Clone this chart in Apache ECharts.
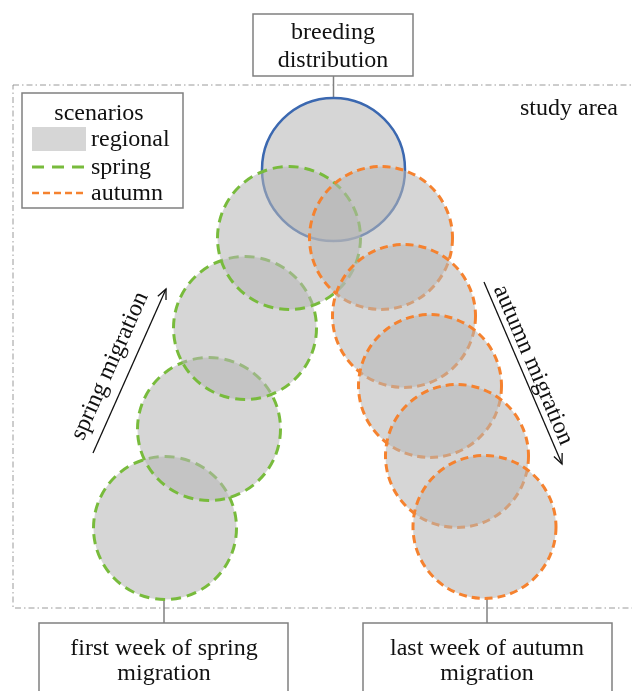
<!DOCTYPE html>
<html>
<head>
<meta charset="utf-8">
<script src="https://cdn.jsdelivr.net/npm/echarts@6/dist/echarts.min.js"></script>
<style>
  html, body { margin: 0; padding: 0; background: #fff; }
  #chart { width: 632px; height: 691px; }
</style>
</head>
<body>
<div id="chart"></div>
<script>
// circle centres and radius, in page-like units
const breedingX = [333.5]
const breedingY = [169.5]
const springX = [165, 209, 245, 289]    // first week -> last week
const springY = [528, 429, 328, 238]
const autumnX = [381, 404, 430, 457, 484.5]
const autumnY = [238, 316, 386, 456, 527]
const radius = 71.5

// migration arrows: [x1, y1, x2, y2]
const arrows = [
  [93, 453, 166, 289],
  [484, 282, 562, 464]
]

const FONT = '24px "Liberation Serif", "Times New Roman", serif'
const BOX = '#808080'

const toData = (xs, ys) => xs.map((x, i) => [x, ys[i], radius])

function circleSeries(name, data, stroke, width, dash) {
  return {
    name: name,
    type: 'custom',
    coordinateSystem: 'cartesian2d',
    data: data,
    renderItem(params, api) {
      const c = api.coord([api.value(0), api.value(1)])
      const r = api.size([api.value(2), 0])[0]
      return {
        type: 'circle',
        shape: { cx: c[0], cy: c[1], r: r },
        style: {
          fill: 'rgba(182,182,182,0.56)',
          stroke: stroke,
          lineWidth: width,
          lineDash: dash
        }
      }
    }
  }
}

const chart = echarts.init(document.getElementById('chart'))

chart.setOption({
  animation: false,
  grid: { left: 0, right: 0, top: 0, bottom: 0 },
  xAxis: { type: 'value', min: 0, max: 632, show: false },
  yAxis: { type: 'value', min: 0, max: 691, inverse: true, show: false },
  series: [
    circleSeries('breeding', toData(breedingX, breedingY), '#3b68b0', 2.5, null),
    circleSeries('spring', toData(springX, springY), '#78bb3c', 3, [10, 6]),
    circleSeries('autumn', toData(autumnX, autumnY), '#f5822f', 3, [8, 5]),
    {
      name: 'arrows',
      type: 'custom',
      coordinateSystem: 'cartesian2d',
      data: arrows,
      renderItem(params, api) {
        const a = api.coord([api.value(0), api.value(1)])
        const b = api.coord([api.value(2), api.value(3)])
        const ang = Math.atan2(b[1] - a[1], b[0] - a[0])
        const len = 11, spread = 0.42
        const h1 = [b[0] - len * Math.cos(ang - spread), b[1] - len * Math.sin(ang - spread)]
        const h2 = [b[0] - len * Math.cos(ang + spread), b[1] - len * Math.sin(ang + spread)]
        return {
          type: 'group',
          children: [
            { type: 'line', shape: { x1: a[0], y1: a[1], x2: b[0], y2: b[1] },
              style: { stroke: '#111', lineWidth: 1.3 } },
            { type: 'polyline', shape: { points: [h1, b, h2] },
              style: { stroke: '#111', lineWidth: 1.3, fill: null } }
          ]
        }
      }
    }
  ],
  graphic: [
    // study area frame
    {
      type: 'rect', z: -1,
      shape: { x: 13, y: 85, width: 620, height: 523 },
      style: { fill: null, stroke: '#9a9a9a', lineWidth: 1, lineDash: [6, 3, 1.5, 3] }
    },
    { type: 'text', style: { text: 'study area', x: 520, y: 109, font: FONT, fill: '#111', textVerticalAlign: 'middle' } },

    // breeding distribution box
    { type: 'line', shape: { x1: 333.5, y1: 76, x2: 333.5, y2: 98 }, style: { stroke: BOX, lineWidth: 1.5 } },
    { type: 'rect', shape: { x: 253, y: 14, width: 160, height: 62 }, style: { fill: '#fff', stroke: BOX, lineWidth: 1.5 } },
    { type: 'text', style: { text: 'breeding\ndistribution', x: 333, y: 46.5, font: FONT, lineHeight: 28, fill: '#111', textAlign: 'center', textVerticalAlign: 'middle' } },

    // bottom boxes
    { type: 'line', shape: { x1: 164, y1: 599, x2: 164, y2: 623 }, style: { stroke: BOX, lineWidth: 1.5 } },
    { type: 'rect', shape: { x: 39, y: 623, width: 249, height: 80 }, style: { fill: '#fff', stroke: BOX, lineWidth: 1.5 } },
    { type: 'text', style: { text: 'first week of spring\nmigration', x: 164, y: 661, font: FONT, lineHeight: 25, fill: '#111', textAlign: 'center', textVerticalAlign: 'middle' } },

    { type: 'line', shape: { x1: 487, y1: 599, x2: 487, y2: 623 }, style: { stroke: BOX, lineWidth: 1.5 } },
    { type: 'rect', shape: { x: 363, y: 623, width: 249, height: 80 }, style: { fill: '#fff', stroke: BOX, lineWidth: 1.5 } },
    { type: 'text', style: { text: 'last week of autumn\nmigration', x: 487, y: 661, font: FONT, lineHeight: 25, fill: '#111', textAlign: 'center', textVerticalAlign: 'middle' } },

    // arrow labels
    { type: 'text', x: 110, y: 366, rotation: 66 * Math.PI / 180,
      style: { text: 'spring migration', x: 0, y: 0, font: FONT, fill: '#111', textAlign: 'center', textVerticalAlign: 'middle' } },
    { type: 'text', x: 533, y: 365, rotation: -66.8 * Math.PI / 180,
      style: { text: 'autumn migration', x: 0, y: 0, font: FONT, fill: '#111', textAlign: 'center', textVerticalAlign: 'middle' } },

    // legend
    { type: 'rect', shape: { x: 22, y: 93, width: 161, height: 115 }, style: { fill: '#fff', stroke: BOX, lineWidth: 1.5 } },
    { type: 'text', style: { text: 'scenarios', x: 99, y: 113.5, font: FONT, fill: '#111', textAlign: 'center', textVerticalAlign: 'middle' } },
    { type: 'rect', shape: { x: 32, y: 127, width: 54, height: 24 }, style: { fill: '#d6d6d6' } },
    { type: 'text', style: { text: 'regional', x: 91, y: 139.5, font: FONT, fill: '#111', textVerticalAlign: 'middle' } },
    { type: 'line', shape: { x1: 32, y1: 167, x2: 86, y2: 167 }, style: { stroke: '#78bb3c', lineWidth: 3, lineDash: [12, 8] } },
    { type: 'text', style: { text: 'spring', x: 91, y: 167.5, font: FONT, fill: '#111', textVerticalAlign: 'middle' } },
    { type: 'line', shape: { x1: 32, y1: 193, x2: 86, y2: 193 }, style: { stroke: '#f5822f', lineWidth: 2.5, lineDash: [7, 4] } },
    { type: 'text', style: { text: 'autumn', x: 91, y: 193.5, font: FONT, fill: '#111', textVerticalAlign: 'middle' } }
  ]
})
</script>
</body>
</html>
